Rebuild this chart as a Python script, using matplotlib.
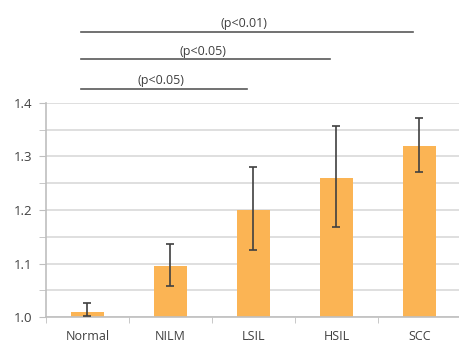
import numpy as np
import matplotlib.pyplot as plt
from matplotlib.ticker import MultipleLocator

groups = ["Normal", "NILM", "LSIL", "HSIL", "SCC"]
means = [1.010, 1.096, 1.200, 1.259, 1.319]
err_low = [0.007, 0.037, 0.075, 0.090, 0.048]
err_high = [0.016, 0.041, 0.081, 0.098, 0.052]

# significance brackets: (start group, end group, label)
sig_pairs = [(0, 2, "(p<0.05)"), (0, 3, "(p<0.05)"), (0, 4, "(p<0.01)")]
sig_y = [1.4255, 1.481, 1.532]

plt.rcParams['font.family'] = ['Open Sans', 'DejaVu Sans']
txt = "#404040"
grid_c = "#d9d9d9"

fig = plt.figure(figsize=(4.59, 3.45), dpi=100)
ax = fig.add_axes([0.1002, 0.0803, 0.904, 0.622])

x = np.arange(len(groups))
ax.bar(x, np.array(means) - 1.0, bottom=1.0, width=0.4, color="#fbb454", zorder=2)
ax.errorbar(x, means, yerr=[err_low, err_high], fmt="none", ecolor="#404040",
            elinewidth=1.2, capsize=3, capthick=1.2, zorder=3)

ax.set_xlim(-0.5, 4.5)
ax.set_ylim(1.0, 1.4)
ax.yaxis.set_major_locator(MultipleLocator(0.1))
ax.yaxis.set_minor_locator(MultipleLocator(0.05))
ax.yaxis.set_major_formatter(plt.FormatStrFormatter("%.1f"))
ax.grid(axis="y", which="both", color=grid_c, linewidth=1.2, zorder=0)
ax.set_axisbelow(True)

ax.set_xticks(x)
ax.set_xticklabels(groups)
ax.set_xticks(np.arange(-0.5, 4.6, 1.0), minor=True)
ax.tick_params(axis="x", which="major", length=0, pad=9, labelsize=9, labelcolor=txt)
ax.tick_params(axis="x", which="minor", length=4, color="#bfbfbf")
ax.tick_params(axis="y", which="both", length=5, color="#bfbfbf", labelsize=9.5,
               labelcolor=txt, pad=5)
ax.tick_params(axis="y", which="minor", labelleft=False)

for s in ["top", "right"]:
    ax.spines[s].set_visible(False)
for s in ["left", "bottom"]:
    ax.spines[s].set_color("#bfbfbf")
    ax.spines[s].set_linewidth(1.2)

for (a, b, lab), yy in zip(sig_pairs, sig_y):
    x0, x1 = a - 0.08, b - 0.08
    ax.plot([x0, x1], [yy, yy], color="#595959", linewidth=1.2, clip_on=False)
    ax.text((x0 + x1) / 2 - 0.03, yy + 0.003, lab, ha="center", va="bottom",
            fontsize=9, color=txt, clip_on=False)

fig.savefig("out.png", dpi=100)
